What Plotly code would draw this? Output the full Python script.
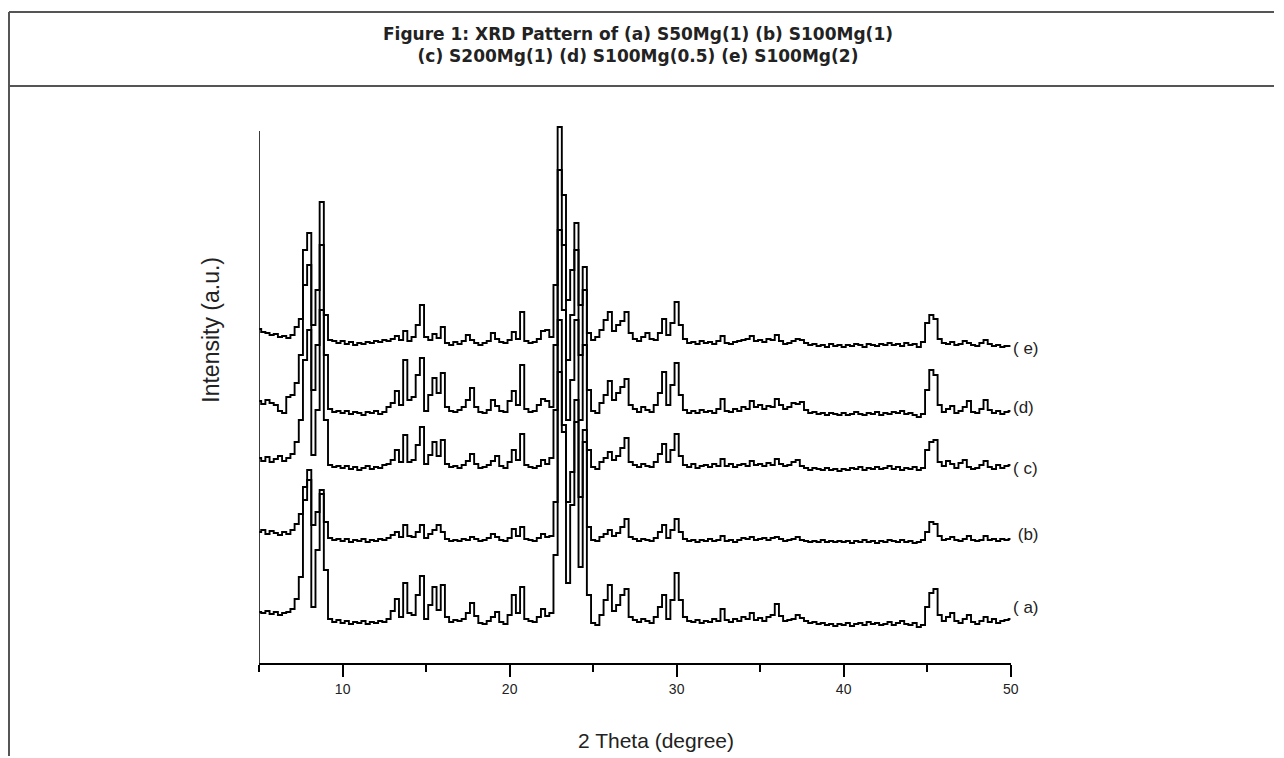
import numpy as np
import plotly.graph_objects as go

# 2-theta sampling grid (degrees)
two_theta = np.round(np.arange(5, 50.001, 0.25), 2)

# Intensities (a.u.), relative to each pattern's own baseline
intensity_a = [
    13, 12, 14, 11, 13, 10, 12, 13, 16, 26, 48, 125, 155, 18, 75, 135, 55, 6, 3, 5,
    2, 4, 1, 3, 2, 4, 1, 3, 2, 4, 3, 6, 14, 26, 8, 42, 12, 10, 30, 49,
    6, 20, 38, 15, 40, 8, 3, 5, 4, 6, 12, 22, 9, 2, 1, 4, 8, 13, 3, 1,
    10, 30, 12, 38, 6, 4, 3, 8, 16, 9, 12, 70, 305, 200, 42, 120, 225, 58, 195, 30,
    2, 0, 10, 25, 40, 14, 20, 30, 36, 8, 5, 3, 6, 4, 2, 8, 18, 30, 6, 25,
    52, 25, 8, 4, 3, 5, 2, 4, 3, 6, 4, 16, 5, 3, 6, 4, 8, 6, 12, 5,
    7, 4, 8, 10, 21, 9, 4, 5, 6, 10, 7, 4, 2, 3, 1, 2, 0, 1, -1, 1,
    0, 2, -1, 1, 2, 0, 3, 1, 2, 0, 1, 3, 0, 2, 4, 1, 0, 2, -2, 0,
    18, 32, 36, 10, 4, 8, 12, 4, 2, 6, 10, 3, 1, 4, 8, 3, 6, 2, 4, 5,
    6,
]
intensity_b = [
    10, 12, 8, 11, 9, 7, 10, 8, 12, 18, 28, 55, 62, 17, 30, 48, 20, 4, 2, 3,
    1, 3, 0, 2, 1, 3, 0, 2, 1, 3, 2, 4, 7, 10, 5, 17, 6, 5, 10, 17,
    4, 8, 12, 17, 10, 3, 1, 2, 1, 3, 2, 5, 3, 1, 2, 4, 8, 5, 2, 1,
    4, 13, 6, 15, 3, 2, 1, 4, 8, 5, 6, 40, 170, 110, 40, 70, 120, 45, 100, 15,
    2, 1, 5, 8, 12, 6, 9, 15, 23, 5, 3, 1, 3, 2, 1, 4, 10, 17, 4, 12,
    23, 10, 3, 1, 2, 0, 2, 1, 3, 1, 2, 6, 1, 2, 0, 2, 4, 3, 5, 2,
    3, 4, 2, 4, 5, 3, 1, 2, 3, 5, 2, 1, 0, 1, 0, 2, 0, 1, 0, 1,
    0, 1, -1, 1, 0, 2, 0, 1, -1, 1, 0, 2, 1, 0, 2, 0, 1, -1, 0, 2,
    10, 20, 18, 6, 2, 3, 5, 2, 1, 3, 6, 2, 1, 2, 6, 2, 3, 1, 3, 2,
    3,
]
intensity_c = [
    12, 9, 13, 8, 11, 14, 9, 12, 16, 28, 50, 110, 140, 15, 60, 160, 50, 5, 3, 4,
    2, 4, 1, 3, 0, 2, 4, 1, 3, 2, 5, 6, 10, 20, 8, 35, 8, 10, 25, 43,
    6, 15, 28, 14, 30, 6, 3, 4, 2, 5, 9, 16, 6, 2, 3, 5, 9, 14, 4, 2,
    8, 20, 10, 36, 5, 3, 2, 4, 10, 6, 12, 60, 240, 160, 50, 90, 150, 50, 125, 20,
    3, 1, 8, 12, 18, 10, 14, 22, 32, 8, 5, 3, 6, 4, 3, 8, 16, 26, 8, 20,
    36, 14, 5, 3, 6, 2, 4, 5, 3, 6, 4, 11, 4, 6, 3, 5, 6, 4, 9, 5,
    6, 4, 7, 5, 11, 6, 4, 5, 8, 10, 4, 2, 0, 2, 1, 0, 2, 0, 1, -1,
    1, 0, 2, 1, 3, 0, 2, 1, 3, 1, 2, 4, 1, 3, 0, 2, 1, 3, 0, 2,
    20, 28, 30, 8, 4, 9, 6, 2, 7, 10, 3, 1, 2, 5, 9, 3, 1, 5, 2, 4,
    5,
]
intensity_d = [
    14, 11, 15, 12, 10, 4, 2, 18, 20, 32, 60, 130, 150, 25, 70, 170, 60, 6, 3, 4,
    2, 4, 1, 3, 2, 0, 3, 2, 4, 1, 3, 8, 12, 24, 10, 55, 15, 18, 40, 57,
    4, 20, 37, 22, 42, 8, 4, 3, 5, 8, 15, 27, 8, 3, 2, 5, 15, 9, 4, 3,
    14, 24, 10, 50, 6, 3, 4, 10, 16, 14, 8, 70, 245, 170, 55, 100, 165, 60, 125, 25,
    4, 2, 12, 20, 34, 15, 22, 28, 36, 10, 6, 3, 8, 5, 3, 10, 22, 43, 10, 30,
    52, 20, 5, 2, 4, 2, 5, 3, 4, 2, 6, 16, 4, 3, 6, 4, 8, 6, 14, 8,
    10, 6, 9, 8, 16, 10, 6, 8, 12, 11, 13, 5, 2, 3, 1, 2, 0, 2, 1, 0,
    2, 0, 1, 3, 1, 0, 2, 1, 3, 0, 2, 1, 3, 2, 4, 1, 2, 0, -2, 1,
    25, 45, 40, 10, 3, 6, 9, 2, 4, 8, 14, 3, 2, 6, 15, 5, 2, 4, 1, 3,
    4,
]
intensity_e = [
    16, 13, 12, 10, 11, 8, 9, 7, 10, 18, 26, 95, 112, 20, 55, 143, 30, 5, 4, 2,
    4, 1, 3, 0, 2, 1, 3, 2, 4, 3, 5, 4, 6, 9, 5, 14, 4, 8, 20, 40,
    8, 5, 11, 7, 18, 2, 0, 3, 1, 4, 10, 5, 2, 0, 2, 4, 12, 6, 3, 2,
    5, 13, 6, 33, 4, 2, 3, 6, 14, 15, 8, 60, 218, 150, 45, 75, 122, 40, 78, 12,
    5, 8, 15, 25, 33, 14, 20, 24, 33, 12, 6, 4, 8, 12, 6, 5, 12, 26, 10, 22,
    43, 20, 6, 2, 3, 1, 4, 2, 3, 1, 4, 9, 2, 1, 3, 4, 5, 6, 9, 4,
    5, 3, 6, 5, 10, 4, 1, 2, 4, 6, 5, 2, 0, 1, -1, 0, -2, 1, -1, 0,
    -2, 0, -1, 1, 0, -2, 1, 0, -1, 1, 0, 2, 0, 1, -1, 2, 0, 1, -2, 3,
    22, 30, 26, 6, 2, 1, 3, 0, 1, 4, 2, 0, -1, 2, 5, 1, -1, 0, -2, -1,
    -1,
]

labels = ["(a)", "(b)", "(c)", "(d)", "(e)"]
label_texts = ["( a)", " (b)", "( c)", "(d)", "( e)"]
series = [intensity_a, intensity_b, intensity_c, intensity_d, intensity_e]
offsets = [38, 121, 193, 248, 318]
label_dy = [12, 5, -3, 4, -2]

x_ticks = [10, 20, 30, 40, 50]

# page body has an 8px margin: work in screen pixels and convert
PAGE = 8
W, H = 1274, 748


def fx(px):
    return (px - PAGE) / W


def fy(py):
    return 1 - (py - PAGE) / H


fig = go.Figure()

for lab, vals, off in zip(labels, series, offsets):
    fig.add_trace(go.Scatter(
        x=two_theta, y=np.array(vals) + off, mode="lines", name=lab,
        line=dict(color="black", width=1.9, shape="hvh"),
        showlegend=False, hoverinfo="skip",
    ))

for txt, vals, off, dy in zip(label_texts, series, offsets, label_dy):
    fig.add_annotation(
        x=fx(1017), y=off + vals[-1] + dy, xref="paper", yref="y", text=txt,
        showarrow=False, xanchor="left", yanchor="middle",
        font=dict(family="Liberation Sans, Arial", size=17, color="#222"),
    )

px_left, px_right = 260.7, 1017.0
py_axis = 663
y_top = 545
fig.update_layout(
    width=W, height=H, autosize=False,
    paper_bgcolor="white", plot_bgcolor="white",
    margin=dict(l=0, r=0, t=0, b=0),
    xaxis=dict(
        domain=[fx(px_left), fx(px_right)], range=[5, 50],
        showline=True, linecolor="black", linewidth=2,
        showgrid=False, zeroline=False,
        tickmode="array", tickvals=x_ticks, ticktext=[str(v) for v in x_ticks],
        ticks="outside", ticklen=12, tickwidth=1.5, tickcolor="black",
        minor=dict(tickmode="array", tickvals=[5, 15, 25, 35, 45], ticks="outside",
                   ticklen=7, tickwidth=1.5, tickcolor="black"),
        tickfont=dict(family="Liberation Sans, Arial", size=14, color="#222"),
    ),
    yaxis=dict(
        domain=[fy(py_axis), fy(py_axis - y_top)], range=[0, y_top],
        showline=False, showgrid=False, zeroline=False,
        showticklabels=False, ticks="",
    ),
)

# y axis line
fig.add_shape(type="line", xref="x", yref="y", x0=5, x1=5, y0=0, y1=532,
              line=dict(color="black", width=1.5))

# axis titles
fig.add_annotation(x=fx(660), y=fy(740), xref="paper", yref="paper",
                   text="2 Theta (degree)", showarrow=False, yanchor="middle", xanchor="center",
                   font=dict(family="Liberation Sans, Arial", size=21, color="#222"))
fig.add_annotation(x=fx(212), y=fy(330), xref="paper", yref="paper",
                   text="Intensity (a.u.)", showarrow=False, textangle=-90,
                   yanchor="middle", xanchor="center",
                   font=dict(family="Liberation Sans, Arial", size=23, color="#222"))

# figure caption box
border = dict(color="#555", width=2)
fig.add_shape(type="line", xref="paper", yref="paper", x0=fx(9), x1=1, y0=fy(12), y1=fy(12), line=border)
fig.add_shape(type="line", xref="paper", yref="paper", x0=fx(9), x1=1, y0=fy(86), y1=fy(86), line=border)
fig.add_shape(type="line", xref="paper", yref="paper", x0=fx(9), x1=fx(9), y0=0, y1=fy(12), line=border)
fig.add_annotation(x=fx(642), y=fy(44.5), xref="paper", yref="paper", showarrow=False,
                   yanchor="middle", xanchor="center",
                   text="<b>Figure 1: XRD Pattern of (a) S50Mg(1) (b) S100Mg(1)</b><br><b>(c) S200Mg(1) (d) S100Mg(0.5) (e) S100Mg(2)</b>",
                   font=dict(family="DejaVu Sans, Verdana", size=17, color="#222"))

fig.write_html("out.html")
